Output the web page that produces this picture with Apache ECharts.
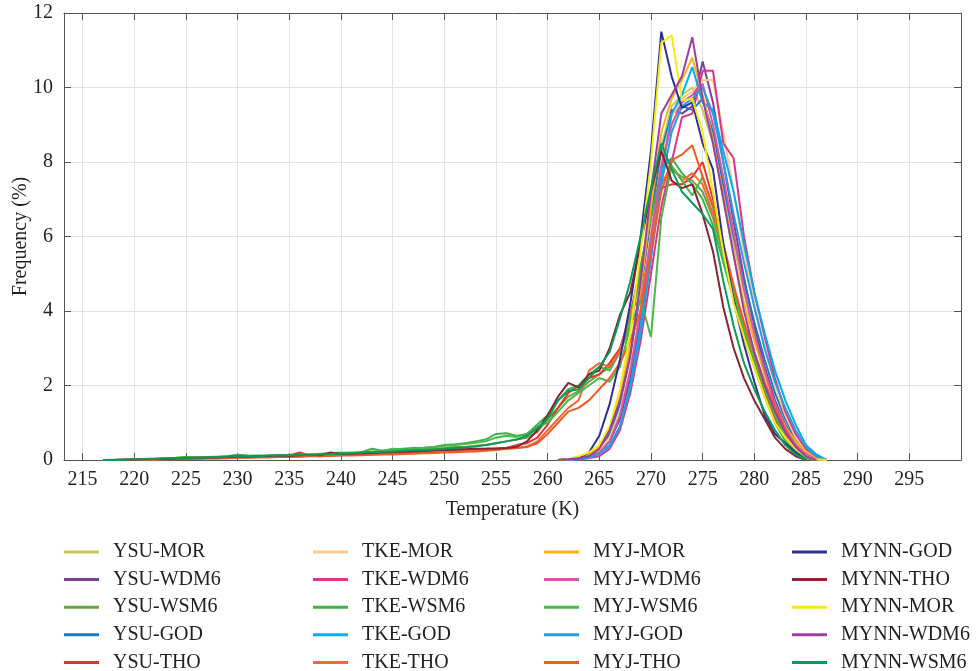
<!DOCTYPE html>
<html>
<head>
<meta charset="utf-8">
<script src="https://cdn.jsdelivr.net/npm/echarts@6/dist/echarts.min.js"></script>
<style>
html,body{margin:0;padding:0;background:#fff;}
#chart{width:976px;height:671px;}
</style>
</head>
<body>
<div id="chart"></div>
<script>
// ---- data ----
const xTickValues = [215,220,225,230,235,240,245,250,255,260,265,270,275,280,285,290,295];
const broadStart = 217;   // first temperature of WSM6 / THO runs
const narrowStart = 261;  // first temperature of MOR / WDM6 / GOD runs

// narrow group (261 K onwards)
const ysuMor   = [0,0,0.05,0.12,0.3,0.7,1.5,2.9,4.6,6.6,8.4,9.5,9.8,10.0,9.4,8.5,7.2,5.8,4.5,3.3,2.3,1.5,0.9,0.45,0.15,0.03,0];
const ysuWdm6  = [0,0.01,0.05,0.1,0.2,0.5,1.1,2.2,3.8,5.8,7.8,9.4,9.3,9.5,10.7,9.6,8.0,6.4,4.9,3.6,2.5,1.6,0.95,0.5,0.2,0.05,0];
const ysuGod   = [0,0.02,0.05,0.12,0.3,0.7,1.5,2.8,4.5,6.5,8.3,9.3,9.5,9.4,9.7,8.8,7.4,6.0,4.8,3.7,2.7,1.8,1.1,0.55,0.2,0.05,0];
const tkeMor   = [0,0,0.03,0.1,0.25,0.6,1.3,2.5,4.1,6.1,8.0,9.2,9.7,9.9,10.2,10.2,8.8,7.2,5.6,4.2,3.0,2.0,1.2,0.6,0.25,0.05,0];
const tkeWdm6  = [0,0,0.02,0.05,0.1,0.3,0.8,1.8,3.2,5.0,6.8,8.0,9.2,9.3,10.45,10.45,8.5,8.1,6.0,4.5,3.3,2.2,1.3,0.7,0.3,0.1,0];
const tkeGod   = [0,0,0.03,0.1,0.2,0.4,0.9,2.0,3.6,5.5,7.6,9.3,9.8,10.55,9.6,9.4,8.3,7.2,5.8,4.5,3.4,2.4,1.6,0.95,0.4,0.15,0];
const myjMor   = [0,0,0.05,0.15,0.35,0.8,1.7,3.1,4.6,6.8,8.8,9.7,10.2,10.8,9.8,8.6,7.0,5.5,4.2,3.2,2.3,1.5,0.9,0.5,0.2,0.05,0];
const myjWdm6  = [0,0,0.03,0.08,0.2,0.5,1.2,2.4,4.0,6.0,7.9,9.0,9.6,9.8,10.1,9.0,7.6,6.1,4.6,3.4,2.4,1.5,0.85,0.4,0.15,0.03,0];
const myjGod   = [0,0,0.02,0.06,0.15,0.35,0.9,1.9,3.4,5.4,7.4,8.8,9.5,9.7,10.0,9.3,8.0,6.6,5.3,4.1,3.0,2.1,1.4,0.8,0.35,0.1,0];
const mynnGod  = [0,0.02,0.05,0.2,0.65,1.5,2.7,4.2,6.0,8.3,11.5,10.3,9.45,9.6,8.5,7.8,5.8,4.3,3.1,2.1,1.2,0.7,0.45,0.2,0];
const mynnMor  = [0,0.02,0.1,0.2,0.4,0.9,1.9,3.4,5.6,8.0,11.2,11.4,9.65,9.7,8.8,7.2,5.6,4.2,3.3,2.5,1.7,1.0,0.6,0.3,0.1,0.02,0];
const mynnWdm6 = [0,0.02,0.05,0.1,0.3,0.8,1.6,2.8,4.8,7.2,9.3,9.8,10.3,11.35,9.7,8.5,7.0,5.5,4.0,2.9,2.0,1.3,0.75,0.35,0.1,0];

// broad group (217 K onwards)
const ysuWsm6  = [0,0,0.01,0.02,0.03,0.03,0.04,0.05,0.08,0.06,0.07,0.08,0.09, 0.12,0.1,0.1,0.11,0.12,0.1,0.14,0.13,0.15,0.16, 0.17,0.18,0.2,0.22,0.2,0.24,0.25,0.27,0.28,0.3, 0.32,0.35,0.35,0.38,0.4,0.45,0.5,0.55,0.6,0.75,
                  1.1,1.4,1.7,1.85,2.1,2.3,2.5,2.9,3.6,5.0, 6.8,8.0,7.8,7.6,7.5,7.2,6.5,5.5,4.4,3.4, 2.6,1.8,1.1,0.6,0.25,0.05,0];
const ysuTho   = [0,0,0.01,0.02,0.02,0.03,0.03,0.04,0.05,0.05,0.06,0.07,0.08, 0.1,0.08,0.09,0.1,0.11,0.12,0.2,0.12,0.1,0.15, 0.14,0.16,0.18,0.17,0.2,0.22,0.2,0.23,0.25,0.24, 0.26,0.27,0.28,0.28,0.3,0.3,0.32,0.4,0.45,0.6,
                  0.95,1.4,1.8,2.0,2.2,2.3,2.6,3.0,3.9,5.2, 6.5,7.3,7.4,7.4,7.6,8.0,7.0,5.8,4.6,3.5, 2.6,1.8,1.1,0.6,0.25,0.05,0];
const tkeWsm6  = [0,0.01,0.01,0.02,0.03,0.04,0.05,0.06,0.08,0.07,0.08,0.09,0.1, 0.14,0.12,0.11,0.12,0.13,0.12,0.15,0.14,0.17,0.18, 0.2,0.19,0.21,0.3,0.25,0.28,0.3,0.32,0.33,0.35, 0.4,0.42,0.45,0.5,0.55,0.7,0.72,0.65,0.7,0.95,
                  1.2,1.6,1.9,2.0,2.3,2.5,2.4,2.9,3.8,5.2, 6.5,7.8,8.1,7.7,7.4,7.0,6.3,5.3,4.3,3.3, 2.5,1.7,1.0,0.5,0.2,0.05,0];
const tkeTho   = [0,0,0,0.01,0.01,0.02,0.02,0.03,0.04,0.04,0.05,0.05,0.06, 0.07,0.07,0.08,0.08,0.09,0.1,0.1,0.11,0.12,0.12, 0.13,0.14,0.15,0.15,0.16,0.17,0.18,0.19,0.2,0.2, 0.22,0.23,0.24,0.25,0.26,0.28,0.3,0.32,0.36,0.5,
                  0.8,1.1,1.4,1.6,2.4,2.6,2.5,2.9,4.0,4.35, 5.8,7.4,7.9,7.5,7.7,7.4,6.6,5.6,4.6,3.6, 2.8,2.0,1.3,0.7,0.3,0.08,0];
const myjWsm6  = [0,0,0.01,0.01,0.02,0.03,0.04,0.05,0.06,0.07,0.07,0.08,0.1, 0.12,0.11,0.12,0.11,0.13,0.14,0.13,0.15,0.16,0.17, 0.18,0.2,0.19,0.22,0.24,0.3,0.28,0.3,0.32,0.34, 0.38,0.4,0.43,0.46,0.5,0.6,0.65,0.62,0.7,0.9,
                  1.0,1.3,1.6,1.8,2.0,2.2,2.1,2.5,3.6,4.3, 3.3,6.5,7.9,7.5,7.1,7.6,6.8,5.6,4.5,3.5, 2.7,1.9,1.2,0.6,0.25,0.05,0];
const myjTho   = [0,0,0,0,0.01,0.01,0.02,0.02,0.03,0.03,0.04,0.04,0.05, 0.06,0.06,0.07,0.07,0.08,0.08,0.09,0.1,0.1,0.11, 0.12,0.12,0.13,0.14,0.15,0.15,0.16,0.17,0.18,0.19, 0.2,0.21,0.22,0.23,0.25,0.27,0.3,0.32,0.35,0.45,
                  0.7,1.0,1.3,1.4,1.6,1.9,2.2,2.6,3.2,4.0, 5.6,7.2,8.05,8.2,8.45,7.6,6.8,5.8,4.7,3.7, 2.9,2.1,1.4,0.8,0.35,0.1,0];
const mynnTho  = [0,0,0.01,0.01,0.02,0.03,0.03,0.04,0.05,0.06,0.06,0.07,0.08, 0.1,0.09,0.1,0.11,0.12,0.11,0.13,0.14,0.13,0.2, 0.16,0.17,0.18,0.19,0.2,0.21,0.22,0.23,0.24,0.26, 0.27,0.28,0.29,0.3,0.3,0.31,0.32,0.35,0.5,0.8,
                  1.2,1.7,2.07,1.95,2.3,2.4,3.0,3.9,4.5,5.8, 7.2,8.3,7.5,7.3,7.4,6.6,5.6,4.1,3.0,2.2, 1.6,1.1,0.6,0.3,0.1,0];
const mynnWsm6 = [0,0,0.01,0.02,0.02,0.03,0.04,0.05,0.06,0.06,0.07,0.08,0.09, 0.11,0.1,0.1,0.12,0.12,0.13,0.14,0.13,0.15,0.16, 0.17,0.18,0.2,0.21,0.22,0.23,0.25,0.26,0.27,0.28, 0.3,0.32,0.34,0.36,0.4,0.45,0.5,0.55,0.65,0.85,
                  1.1,1.6,1.85,1.9,2.2,2.5,2.9,3.8,4.8,6.0, 7.3,8.5,7.8,7.2,6.9,6.6,6.2,4.8,3.6,2.6, 1.9,1.3,0.8,0.4,0.15,0];

const seriesNames = ['YSU-MOR','YSU-WDM6','YSU-WSM6','YSU-GOD','YSU-THO',
                     'TKE-MOR','TKE-WDM6','TKE-WSM6','TKE-GOD','TKE-THO',
                     'MYJ-MOR','MYJ-WDM6','MYJ-WSM6','MYJ-GOD','MYJ-THO',
                     'MYNN-GOD','MYNN-THO','MYNN-MOR','MYNN-WDM6','MYNN-WSM6'];
const seriesValues = [ysuMor, ysuWdm6, ysuWsm6, ysuGod, ysuTho,
                      tkeMor, tkeWdm6, tkeWsm6, tkeGod, tkeTho,
                      myjMor, myjWdm6, myjWsm6, myjGod, myjTho,
                      mynnGod, mynnTho, mynnMor, mynnWdm6, mynnWsm6];
const seriesStarts = [narrowStart, narrowStart, broadStart, narrowStart, broadStart,
                      narrowStart, narrowStart, broadStart, narrowStart, broadStart,
                      narrowStart, narrowStart, broadStart, narrowStart, broadStart,
                      narrowStart, broadStart, narrowStart, narrowStart, broadStart];
const seriesColors = ['#c2c85b','#7e3f98','#6aa342','#1f77c0','#e8342a',
                      '#fdc68a','#e0338a','#3ab54a','#00aeef','#f26a3b',
                      '#fbb117','#d357a6','#4cb748','#2b9be0','#ef5b24',
                      '#2e3192','#8b2332','#f5ea14','#9b3fa0','#0a9a5a'];

// ---- chart ----
const FONT = '"Liberation Serif", "DejaVu Serif", serif';
const TXT = '#231f20';
const AX = '#555555';
const chart = echarts.init(document.getElementById('chart'));

const series = seriesNames.map((name, i) => ({
  name: name,
  type: 'line',
  symbol: 'none',
  animation: false,
  color: seriesColors[i],
  lineStyle: { width: 2, color: seriesColors[i] },
  data: seriesValues[i].map((v, k) => [seriesStarts[i] + k, v])
}));

const colLeft = [64, 313, 544, 792];
const legends = [0,1,2,3].map(c => ({
  data: seriesNames.slice(c*5, c*5+5),
  orient: 'vertical',
  left: colLeft[c],
  top: 542,
  height: 200,
  icon: 'rect',
  itemWidth: 35,
  itemHeight: 3,
  itemGap: 7.6,
  selectedMode: false,
  padding: 0,
  textStyle: { fontFamily: FONT, fontSize: 20, color: TXT, padding: [0,0,0,9] }
}));

const xCommon = {
  type: 'value', min: 213.2, max: 300,
  axisLine: { show: true, onZero: false, lineStyle: { color: AX, width: 1 } },
  axisTick: { show: true, inside: true, length: 7, customValues: xTickValues, lineStyle: { color: AX } },
  splitLine: { show: false },
  axisLabel: { show: false, customValues: xTickValues }
};
const yCommon = {
  type: 'value', min: 0, max: 12, interval: 2,
  axisLine: { show: true, onZero: false, lineStyle: { color: AX, width: 1 } },
  axisTick: { show: true, inside: true, length: 7, lineStyle: { color: AX } },
  splitLine: { show: false },
  axisLabel: { show: false }
};

chart.setOption({
  backgroundColor: '#fff',
  animation: false,
  grid: { left: 64, top: 13, right: 15, bottom: 211, containLabel: false, outerBoundsMode: 'none' },
  legend: legends,
  xAxis: [
    Object.assign({}, xCommon, {
      position: 'bottom',
      name: 'Temperature (K)', nameLocation: 'middle', nameGap: 40, nameMoveOverlap: false,
      nameTextStyle: { fontFamily: FONT, fontSize: 20, color: TXT },
      splitLine: { show: true, lineStyle: { color: '#e3e3e3', width: 1 } },
      axisLabel: { show: true, customValues: xTickValues, margin: 10, fontFamily: FONT, fontSize: 20, color: TXT }
    }),
    Object.assign({}, xCommon, { position: 'top' })
  ],
  yAxis: [
    Object.assign({}, yCommon, {
      position: 'left',
      name: 'Frequency (%)', nameLocation: 'middle', nameGap: 33, nameMoveOverlap: false,
      nameTextStyle: { fontFamily: FONT, fontSize: 20, color: TXT },
      splitLine: { show: true, lineStyle: { color: '#e3e3e3', width: 1 } },
      axisLabel: { show: true, margin: 11, fontFamily: FONT, fontSize: 20, color: TXT }
    }),
    Object.assign({}, yCommon, { position: 'right' })
  ],
  series: series
});
</script>
</body>
</html>
